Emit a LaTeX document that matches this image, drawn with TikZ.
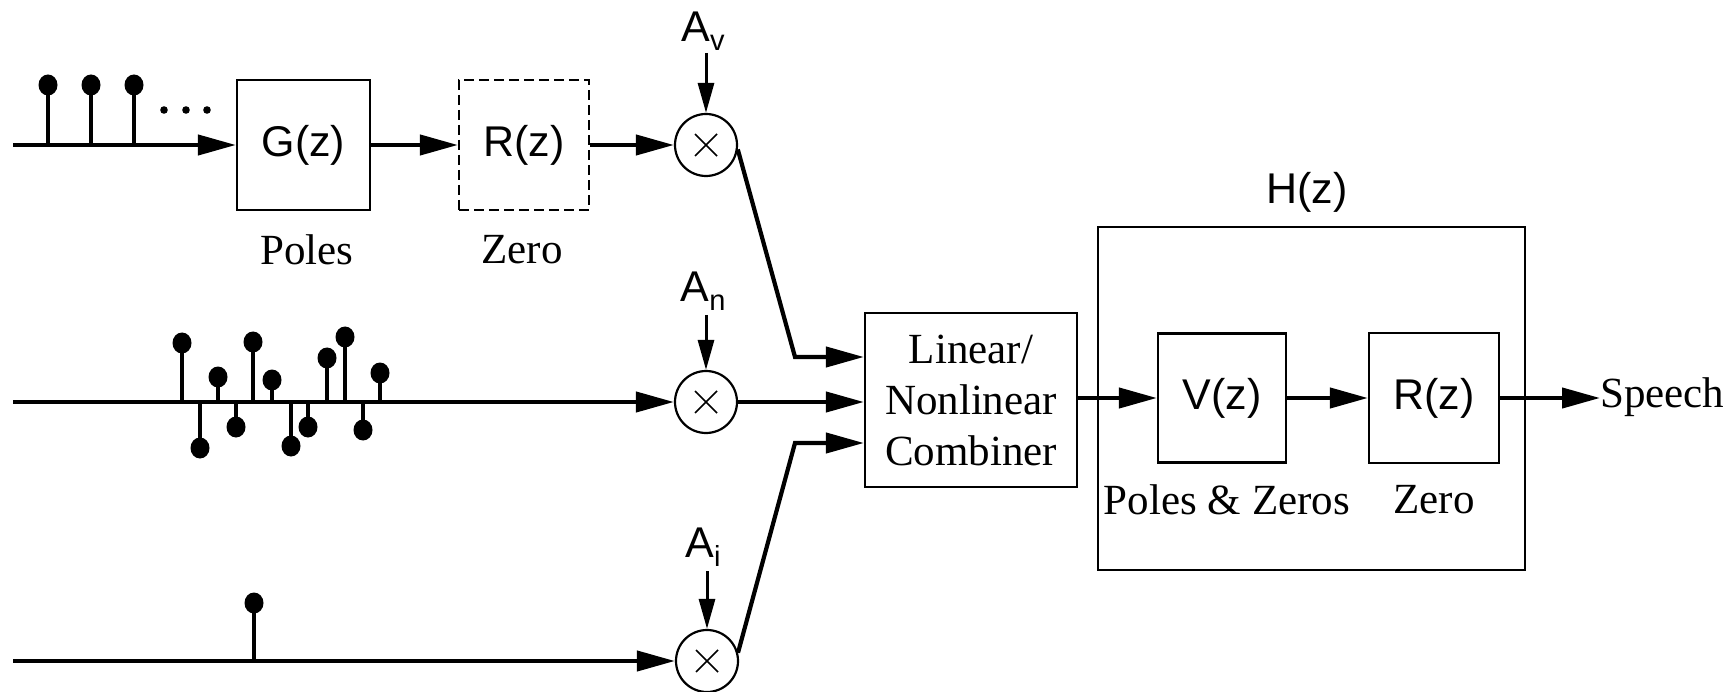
\documentclass[tikz,border=0pt]{standalone}
\usepackage{fontspec}
\setmainfont{Liberation Serif}
\setsansfont{Liberation Sans}
\usetikzlibrary{arrows.meta,calc}
\newcommand{\gsub}[1]{\raisebox{-9pt}{\fontsize{29}{29}\selectfont #1}}
\begin{document}
\begin{tikzpicture}[x=1pt,y=-1pt,
  blk/.style={draw,line width=2.2pt,inner sep=0pt,font=\sffamily\fontsize{43}{48}\selectfont},
  lbl/.style={inner sep=0pt,font=\rmfamily\fontsize{43}{51}\selectfont},
  slbl/.style={inner sep=0pt,font=\sffamily\fontsize{43}{48}\selectfont},
  mult/.style={draw,circle,line width=2.2pt,minimum size=62pt,inner sep=0pt},
  sig/.style={line width=4.2pt,-{Triangle[length=38pt,width=20pt]}},
  gain/.style={line width=3pt,-{Triangle[length=30pt,width=16pt]}},
  stem/.style={line width=3.2pt},
  ball/.style={fill=black},
  cross/.style={line width=1.7pt},
]
\useasboundingbox (0,0) rectangle (1726,692);

% ---------- blocks ----------
\node[blk,minimum width=133pt,minimum height=130pt] (G) at (303.5,145) {G(z)};
\node[blk,dashed,dash pattern=on 10pt off 5pt,minimum width=130pt,minimum height=130pt] (R1) at (524,145) {R(z)};
\node[lbl] (poles) at (307,250) {Poles};
\node[lbl] (zero1) at (522,250) {Zero};

\node[mult] (m1) at (706,145) {};
\node[mult] (m2) at (706,402) {};
\node[mult] (m3) at (707,661) {};
\foreach \m in {m1,m2,m3}{
  \draw[cross] ([shift={(-11,-11)}]\m.center) -- ([shift={(11,11)}]\m.center);
  \draw[cross] ([shift={(-11,11)}]\m.center) -- ([shift={(11,-11)}]\m.center);
}

\node[slbl] (av) at (703,31) {A\gsub{v}};
\node[slbl] (an) at (703,291) {A\gsub{n}};
\node[slbl] (ai) at (703,547) {A\gsub{i}};
\coordinate (gv) at (706,53);
\coordinate (gn) at (706,315);
\coordinate (gi) at (707,571);
\draw[gain] (gv) -- (m1.north);
\draw[gain] (gn) -- (m2.north);
\draw[gain] (gi) -- (m3.north);

\node[blk,font=\rmfamily\fontsize{43}{51}\selectfont,align=center,minimum width=212pt,minimum height=174pt] (comb) at (971,400) {Linear/\\Nonlinear\\Combiner};

\node[draw,line width=2.2pt,minimum width=427pt,minimum height=343pt,inner sep=0pt] (H) at (1311.5,398.5) {};
\node[slbl] (hl) at (1307,192) {H(z)};
\node[blk,minimum width=128pt,minimum height=129pt] (V) at (1222,398) {V(z)};
\node[blk,minimum width=130pt,minimum height=130pt] (R2) at (1434,398) {R(z)};
\node[lbl] (pz) at (1227,500) {Poles \& Zeros};
\node[lbl] (zero2) at (1434,500) {Zero};
\node[lbl,anchor=base west] (speech) at (1600,407) {Speech};

% ---------- signal lines ----------
\coordinate (s1) at (13,145);
\coordinate (s2) at (13,402);
\coordinate (s3) at (13,661);
\draw[sig] (s1) -- (G.west);
\draw[sig] (G.east) -- (R1.west);
\draw[sig] (R1.east) -- (m1.west);
\draw[sig] (s2) -- (m2.west);
\draw[sig] (s3) -- (m3.west);

\coordinate (c1) at (795,357);
\coordinate (c3) at (795,443);
\draw[sig,line join=miter] (m1.-8) -- (c1) -- (c1 -| comb.west);
\draw[sig] (m2.east) -- (m2.east -| comb.west);
\draw[sig,line join=miter] (m3.15) -- (c3) -- (c3 -| comb.west);

\draw[sig] (comb.east |- V.west) -- (V.west);
\draw[sig] (V.east) -- (R2.west);
\draw[sig] (R2.east) -- (speech.west |- R2.east);

% ---------- impulse trains ----------
\foreach \x in {48,91,134}{
  \draw[stem] (\x,145) -- (\x,85);
  \fill[ball] (\x,85) ellipse (9.5 and 10.5);
}
\foreach \x in {164,186,207}{ \fill (\x,110) circle (3.8); }

\foreach \x/\y in {182/343,218/377,253/342,272/380,327/358,345/337,380/373,
                   200/448,236/427,291/446,308/427,363/430}{
  \draw[stem] (\x,402) -- (\x,\y);
  \fill[ball] (\x,\y) ellipse (9.5 and 10.5);
}

\draw[stem] (254,661) -- (254,603);
\fill[ball] (254,603) ellipse (9.5 and 10.5);
\end{tikzpicture}
\end{document}
